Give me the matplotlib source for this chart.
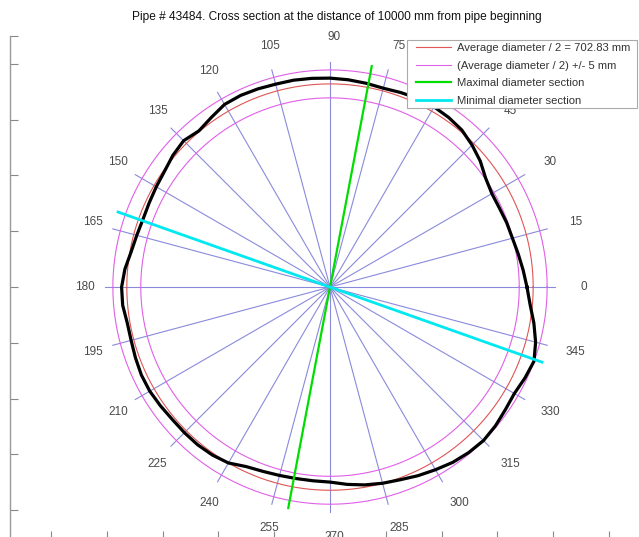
import numpy as np
import matplotlib
matplotlib.use("Agg")
import matplotlib.pyplot as plt
from matplotlib.patches import Rectangle

#### data (radius in mm, read every 5 degrees)
angles_deg = np.arange(0, 360, 5)
radius_mm = [700.6, 699.5, 698.5, 697.7, 697.4, 697.0, 697.0, 698.1, 700.3, 702.0,
             703.5, 704.2, 704.6, 704.6, 704.2, 703.8, 704.2, 704.6, 704.9, 705.1,
             705.3, 705.3, 705.6, 705.8, 705.6, 704.2, 703.1, 704.2, 703.5, 702.4,
             701.9, 701.5, 701.3, 701.7, 702.4, 703.8, 704.7, 704.6, 703.8, 703.8,
             704.2, 704.6, 704.6, 704.2, 703.8, 703.8, 703.8, 703.5, 702.8, 701.0,
             700.3, 699.9, 699.7, 699.7, 699.9, 701.0, 702.0, 702.8, 703.5, 704.6,
             705.6, 706.7, 707.4, 707.8, 707.4, 706.7, 706.3, 707.1, 707.8, 706.3,
             704.2, 702.0]
avg_radius = 702.83
tolerance = 5.0
max_angle = 79.3
min_angle = 160.5
spoke_angles = np.arange(0, 180, 15)
label_angles = np.arange(0, 360, 15)

pipe_no = 43484
distance = 10000
legend_labels = ['Average diameter / 2 = %.2f mm' % avg_radius,
                 '(Average diameter / 2) +/- %d mm' % tolerance,
                 'Maximal diameter section',
                 'Minimal diameter section']

#### display settings
r_shift = 630.0      # radius offset so that deviations are visible
r_max = 80.6         # length of the spokes
r_lab = 89.5         # radius of the angle labels
lab_dx = 1.5         # small horizontal shift of the labels

def to_xy(theta_deg, r):
    t = np.radians(theta_deg)
    return r*np.cos(t), r*np.sin(t)

fig = plt.figure(figsize=(6.39, 5.37), dpi=100)
ax = fig.add_axes([10/639, -2/537, 640/639, 503/537])

# spokes
for a in spoke_angles:
    x, y = to_xy(np.array([a, a+180]), r_max)
    ax.plot(x, y, color='#8a8adc', lw=0.8, zorder=1)

# angle labels
for a in label_angles:
    x, y = to_xy(a, r_lab)
    ax.text(x + lab_dx, y, str(a), ha='center', va='center', fontsize=8.5,
            color='#4a4a4a', family='Liberation Sans', zorder=2)

th = np.linspace(0, 360, 361)
# average and tolerance circles
x, y = to_xy(th, avg_radius - r_shift)
ax.plot(x, y, color='#e05555', lw=0.8, zorder=3, label=legend_labels[0])
x, y = to_xy(th, avg_radius + tolerance - r_shift)
ax.plot(x, y, color='#e060e8', lw=0.8, zorder=3, label=legend_labels[1])
x, y = to_xy(th, avg_radius - tolerance - r_shift)
ax.plot(x, y, color='#e060e8', lw=0.8, zorder=3)

# measured profile
prof_t = np.append(angles_deg, 360)
prof_r = np.append(radius_mm, radius_mm[0]) - r_shift
x, y = to_xy(prof_t, prof_r)
ax.plot(x, y, color='black', lw=2.3, zorder=4, solid_joinstyle='round')

# max / min sections
x, y = to_xy(np.array([max_angle, max_angle+180]), r_max)
ax.plot(x, y, color='#00dd00', lw=1.6, zorder=5, label=legend_labels[2])
x, y = to_xy(np.array([min_angle, min_angle+180]), r_max)
ax.plot(x, y, color='#00e8f0', lw=2.0, zorder=5, label=legend_labels[3])

ax.set_xlim(-114.7, 114.7)
ax.set_ylim(-90.3, 90.0)
ax.set_xticks(np.arange(-100, 101, 20))
ax.set_yticks(list(np.arange(-80, 81, 20)) + [90])
ax.set_xticklabels([])
ax.set_yticklabels([])
ax.tick_params(direction='in', length=6, width=0.8, color='#888888')
for s in ['top', 'right']:
    ax.spines[s].set_visible(False)
for s in ['left', 'bottom']:
    ax.spines[s].set_color('#999999')
    ax.spines[s].set_linewidth(1.0)

# legend: frame drawn separately to get MATLAB-like padding
leg = ax.legend(loc='upper left', bbox_to_anchor=(416/639, 1-43/537),
                bbox_transform=fig.transFigure, borderaxespad=0, borderpad=0,
                frameon=False, handlelength=3.1, handletextpad=0.55,
                labelspacing=0.68, prop={'family': 'Liberation Sans', 'size': 8.1})
leg.set_zorder(11)
for t in leg.get_texts():
    t.set_color('#333333')
box = Rectangle((407/639, 1-108/537), 230/639, 68/537, transform=fig.transFigure,
                facecolor='white', edgecolor='#aaaaaa', lw=0.8, zorder=10)
fig.add_artist(box)
fig.add_artist(leg)

fig.text(337/639, 1-17/537,
         'Pipe # %d. Cross section at the distance of %d mm from pipe beginning' % (pipe_no, distance),
         ha='center', va='center', fontsize=8.6, family='Liberation Sans', color='#111111')

fig.savefig('out.png', dpi=100)
